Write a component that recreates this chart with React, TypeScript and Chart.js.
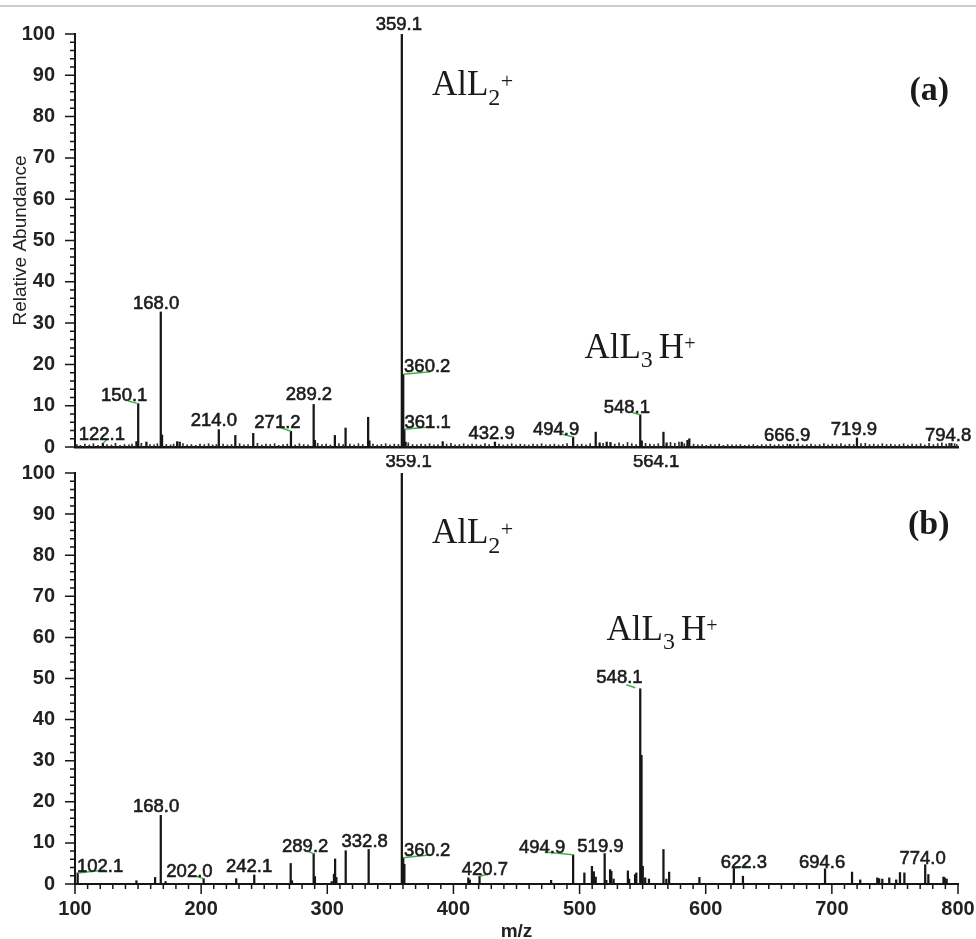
import React, { useEffect, useRef } from 'react';
import { Chart, registerables } from 'chart.js';

Chart.register(...registerables);

// ---------------- data ----------------
const xTickValues = [100, 200, 300, 400, 500, 600, 700, 800];
const yTickValues = [0, 10, 20, 30, 40, 50, 60, 70, 80, 90, 100];

// Panel (a): labelled / visible peaks
const topPeakMz = [122.1, 148.7, 150.1, 156.6, 168.0, 169.0, 181.0, 183.0, 214.0, 227.1, 241.3, 271.2, 289.2, 290.2, 306.0, 314.5, 332.4, 333.4, 359.1, 360.2, 361.1, 362.1, 391.5, 432.9, 494.9, 512.8, 515.9, 521.5, 524.5, 548.1, 549.3, 566.5, 569.0, 581.0, 585.5, 587.0, 666.9, 719.9, 794.8];
const topPeakAbund = [0.9, 1.3, 10.5, 1.2, 32.7, 2.9, 1.3, 1.2, 4.2, 2.8, 3.3, 3.8, 10.3, 1.6, 2.8, 4.6, 7.2, 1.5, 100, 17.6, 4.3, 1.2, 1.3, 1.2, 2.4, 3.6, 1.0, 1.2, 1.1, 7.8, 1.5, 3.6, 1.0, 1.2, 1.6, 2.0, 0.6, 2.2, 0.9];

// Panel (a): low-level background ions ("grass"), read approximately
const topNoise: [number, number][] = [
  [101.5, 0.6], [104.2, 0.4], [107.8, 0.7], [111.3, 0.5], [114.6, 0.8], [118.2, 0.4], [125.4, 0.6], [128.9, 0.5], [132.1, 0.9], [135.7, 0.4],
  [139.3, 0.6], [142.8, 0.5], [145.2, 0.7], [152.6, 0.9], [159.4, 0.6], [162.7, 0.5], [165.3, 0.8], [172.4, 0.6], [175.8, 0.5], [178.2, 0.7],
  [185.6, 0.8], [188.9, 0.5], [192.3, 0.6], [195.7, 0.4], [199.1, 0.7], [202.5, 0.6], [205.9, 0.8], [209.2, 0.5], [212.1, 0.6], [217.4, 0.7],
  [220.8, 0.5], [224.1, 0.6], [230.5, 0.8], [233.9, 0.5], [237.2, 0.6], [244.6, 0.9], [248.1, 0.5], [251.4, 0.7], [254.8, 0.6], [258.2, 0.8],
  [261.5, 0.4], [264.9, 0.6], [268.3, 0.7], [274.6, 0.5], [277.9, 0.8], [281.3, 0.6], [284.7, 0.5], [292.4, 0.9], [295.8, 0.6], [299.1, 0.7],
  [302.5, 0.5], [309.2, 0.8], [312.6, 0.6], [317.9, 0.7], [321.3, 0.5], [324.7, 0.8], [328.1, 0.6], [336.2, 0.7], [339.6, 0.5], [342.9, 0.6],
  [346.3, 0.8], [349.7, 0.5], [353.1, 0.7], [356.4, 0.6], [364.2, 1.0], [367.6, 0.6], [371.0, 0.5], [374.3, 0.7], [377.7, 0.6], [381.1, 0.8],
  [384.5, 0.5], [387.8, 0.6], [394.6, 0.7], [398.0, 0.9], [401.3, 0.5], [404.7, 0.6], [408.1, 0.8], [411.5, 0.5], [414.8, 0.7], [418.2, 0.6],
  [421.6, 0.5], [425.0, 0.8], [428.3, 0.6], [436.1, 0.7], [439.5, 0.5], [442.9, 0.6], [446.2, 0.8], [449.6, 0.5], [453.0, 0.7], [456.4, 0.6],
  [459.7, 0.5], [463.1, 0.7], [466.5, 0.6], [469.9, 0.8], [473.2, 0.5], [476.6, 0.6], [480.0, 0.7], [483.4, 0.5], [486.7, 0.6], [490.1, 0.8],
  [498.3, 0.6], [501.7, 0.7], [505.1, 0.5], [508.4, 0.8], [518.6, 0.9], [527.9, 0.7], [531.3, 1.0], [534.6, 0.6], [538.0, 1.1], [541.4, 0.8],
  [544.8, 0.6], [552.3, 0.9], [555.7, 0.7], [559.0, 0.6], [562.4, 0.8], [572.1, 1.1], [575.5, 0.9], [578.8, 1.2], [583.0, 0.8], [590.4, 0.7],
  [593.8, 0.5], [597.2, 0.6], [600.5, 0.4], [603.9, 0.6], [607.3, 0.5], [610.7, 0.7], [614.0, 0.4], [617.4, 0.6], [620.8, 0.5], [624.2, 0.5],
  [627.5, 0.6], [630.9, 0.4], [634.3, 0.5], [637.7, 0.6], [641.0, 0.4], [644.4, 0.6], [647.8, 0.5], [651.2, 0.7], [654.5, 0.5], [657.9, 0.6],
  [661.3, 0.5], [664.7, 0.7], [670.0, 0.6], [673.4, 0.8], [676.8, 0.5], [680.2, 0.6], [683.5, 0.7], [686.9, 0.5], [690.3, 0.6], [693.7, 0.8],
  [697.0, 0.5], [700.4, 0.7], [703.8, 0.6], [707.2, 0.8], [710.5, 0.5], [713.9, 0.7], [717.3, 0.6], [723.1, 0.8], [726.5, 0.9], [729.9, 0.6],
  [733.2, 0.7], [736.6, 0.5], [740.0, 0.8], [743.4, 0.6], [746.7, 0.7], [750.1, 0.5], [753.5, 0.6], [756.9, 0.8], [760.2, 0.5], [763.6, 0.7],
  [767.0, 0.6], [770.4, 0.8], [773.7, 0.5], [777.1, 0.9], [780.5, 0.6], [783.9, 0.8], [787.2, 1.0], [790.6, 0.7], [793.0, 0.9], [797.3, 0.8],
  [799.0, 0.6],
];

// Panel (b)
const bottomPeakMz = [102.1, 148.7, 163.5, 168.0, 171.8, 202.0, 227.8, 242.1, 271.0, 272.0, 289.2, 290.2, 303.5, 305.3, 306.2, 307.2, 314.6, 332.8, 359.1, 360.2, 361.1, 411.8, 413.0, 420.7, 477.4, 494.9, 503.8, 509.8, 511.3, 512.8, 519.9, 521.2, 524.2, 525.2, 527.0, 538.3, 539.3, 544.0, 545.0, 548.1, 549.1, 550.1, 552.0, 555.0, 566.5, 568.8, 571.0, 595.0, 622.3, 629.5, 694.6, 716.0, 722.5, 736.0, 737.5, 740.0, 745.5, 751.0, 754.0, 757.5, 774.0, 776.5, 788.5, 789.5, 791.0];
const bottomPeakAbund = [2.7, 0.8, 1.6, 16.7, 0.6, 1.3, 1.3, 2.2, 5.0, 0.8, 7.4, 1.8, 0.6, 2.4, 6.1, 1.6, 8.1, 8.4, 100, 6.4, 4.8, 1.5, 1.0, 1.9, 0.9, 7.1, 2.7, 4.3, 3.0, 1.7, 7.4, 0.9, 3.5, 3.1, 1.2, 3.2, 1.2, 2.3, 2.7, 47.5, 31.3, 4.3, 1.5, 1.2, 8.4, 1.2, 2.9, 1.6, 3.9, 1.9, 3.7, 2.9, 1.0, 1.5, 1.3, 1.2, 1.5, 1.0, 2.8, 2.7, 4.7, 2.3, 1.7, 1.5, 1.2];

// Peak annotation texts
const topLabelText = ['122.1', '150.1', '168.0', '214.0', '271.2', '289.2', '359.1', '360.2', '361.1', '432.9', '494.9', '548.1', '666.9', '719.9', '794.8'];
const bottomLabelText = ['102.1', '168.0', '202.0', '242.1', '289.2', '332.8', '359.1', '360.2', '420.7', '494.9', '519.9', '548.1', '564.1', '622.3', '694.6', '774.0'];

// ---------------- layout (label offsets in px relative to peak top) ----------------
const topLabelPlace: [number, number][] = [
  [-1, -3.3], [-14, -2.6], [-4.7, -2.9], [-5, -3.7], [-13.5, -3.3], [-4.7, -4.5], [-3, -4], [24, -2.3], [23.3, -1.2],
  [-3.3, -3], [-17, -2.1], [-13.4, -1.8], [-3, -3.8], [-3, -2.9], [-3.4, -2.6],
];
const topLeaders: (number[] | null)[] = [
  [0, 0, 4, -3.5], [0, 0, -10, -2.6], null, null, [0, 0, -10, -3.6], null, null, [0, 0, 27, -2.5], [0, 0, 28, -2.6],
  null, [0, 0, -13.5, -3.5], [0, 0, -8.5, -2.5], null, null, null,
];
const bottomLabelPlace: [number, number][] = [
  [22.4, -1.2], [-4.7, -3.4], [-14.2, -1.7], [-5.2, -3], [-8.5, -2], [-4, -2.5], [6.7, -6], [24, -1.7], [5.3, -1.2],
  [-31, -1.8], [-4.2, -1.6], [-20.8, -6.1], [-4.4, -6], [10, -0.3], [-3, -1], [-2.6, -0.7],
];
const bottomLeaders: (number[] | null)[] = [
  [0, 0, 27.4, -3], null, [0, 0, -8.7, -2.7], null, [0, 0, -4.7, -1.9], null, null, [0, 0, 28, -3], [0, 0, 10, -2.5],
  [0, 0, -28.5, -2.8], null, [-5, -1, -14, -4], null, [0, 0, 13, -2], null, null,
];

type Piece = { t: string; size: number; shift?: number; gap?: number; bold?: boolean };
type Note = { mz: number; v: number; pieces: Piece[] };

const topNotes: Note[] = [
  { mz: 383.0, v: 85.2, pieces: [{ t: 'AlL', size: 35 }, { t: '2', size: 24, shift: 10 }, { t: '+', size: 22, shift: -7, gap: 0.5 }] },
  { mz: 761.5, v: 84.0, pieces: [{ t: '(a)', size: 34, bold: true }] },
  { mz: 503.9, v: 21.5, pieces: [{ t: 'AlL', size: 35 }, { t: '3', size: 24, shift: 9 }, { t: 'H', size: 35, gap: 6 }, { t: '+', size: 20, shift: -8 }] },
];
const bottomNotes: Note[] = [
  { mz: 383.0, v: 82.97, pieces: [{ t: 'AlL', size: 35 }, { t: '2', size: 24, shift: 10 }, { t: '+', size: 22, shift: -7, gap: 0.5 }] },
  { mz: 760.4, v: 85.2, pieces: [{ t: '(b)', size: 34, bold: true }] },
  { mz: 521.4, v: 59.4, pieces: [{ t: 'AlL', size: 35 }, { t: '3', size: 24, shift: 9 }, { t: 'H', size: 35, gap: 6 }, { t: '+', size: 20, shift: -8 }] },
];

const SANS = '"Liberation Sans", Arial, Helvetica, sans-serif';
const SERIF = '"Liberation Serif", "Times New Roman", serif';
const GREEN = '#45b04c';
const INK = '#161616';

const X_MINOR = 10;
const X_MAJOR = 100;
const Y_MINOR = 2;
const Y_MAJOR = 10;

function axisTicksPlugin(drawX: boolean) {
  return {
    id: 'axisTicks',
    afterDraw(chart: any) {
      const { ctx, chartArea } = chart;
      const xs = chart.scales.x;
      const ys = chart.scales.y;
      ctx.save();
      ctx.strokeStyle = INK;
      ctx.lineWidth = 1.5;
      ctx.beginPath();
      for (let v = ys.min; v <= ys.max + 1e-6; v += Y_MINOR) {
        const p = ys.getPixelForValue(v);
        const len = Math.abs(v % Y_MAJOR) < 1e-6 ? 10 : 5;
        ctx.moveTo(chartArea.left - len, p);
        ctx.lineTo(chartArea.left, p);
      }
      if (drawX) {
        for (let m = xs.min; m <= xs.max + 1e-6; m += X_MINOR) {
          const p = xs.getPixelForValue(m);
          const len = Math.abs(m % X_MAJOR) < 1e-6 ? 10 : 5;
          ctx.moveTo(p, chartArea.bottom);
          ctx.lineTo(p, chartArea.bottom + len);
        }
      }
      ctx.stroke();
      ctx.restore();
    },
  };
}

function peakLabelPlugin(texts: string[], mzs: number[], abunds: number[], place: [number, number][], leaders: (number[] | null)[]) {
  return {
    id: 'peakLabels',
    afterDraw(chart: any) {
      const { ctx } = chart;
      const xs = chart.scales.x;
      const ys = chart.scales.y;
      ctx.save();
      texts.forEach((t, i) => {
        const mz = parseFloat(t);
        const idx = mzs.findIndex((m) => Math.abs(m - mz) < 0.05);
        const v = idx >= 0 ? abunds[idx] : ys.max;
        const px = xs.getPixelForValue(mz);
        const py = ys.getPixelForValue(v);
        const L = leaders[i];
        if (L) {
          ctx.strokeStyle = GREEN;
          ctx.lineWidth = 1.5;
          ctx.beginPath();
          ctx.moveTo(px + L[0], py + L[1]);
          ctx.lineTo(px + L[2], py + L[3]);
          ctx.stroke();
        }
        ctx.font = `18.5px ${SANS}`;
        ctx.fillStyle = '#1c1c1c';
        ctx.strokeStyle = '#1c1c1c';
        ctx.lineWidth = 0.6;
        ctx.textAlign = 'center';
        ctx.textBaseline = 'alphabetic';
        const lx = px + place[i][0];
        const ly = py + place[i][1];
        ctx.fillText(t, lx, ly);
        ctx.strokeText(t, lx, ly);
      });
      ctx.restore();
    },
  };
}

function notesPlugin(notes: Note[]) {
  return {
    id: 'notes',
    afterDraw(chart: any) {
      const { ctx } = chart;
      const xs = chart.scales.x;
      const ys = chart.scales.y;
      ctx.save();
      ctx.fillStyle = '#1a1a1a';
      ctx.textAlign = 'left';
      ctx.textBaseline = 'alphabetic';
      notes.forEach((n) => {
        let x = xs.getPixelForValue(n.mz);
        const y = ys.getPixelForValue(n.v);
        n.pieces.forEach((p) => {
          x += p.gap || 0;
          ctx.font = `${p.bold ? 'bold ' : ''}${p.size}px ${SERIF}`;
          ctx.fillText(p.t, x, y + (p.shift || 0));
          x += ctx.measureText(p.t).width;
        });
      });
      ctx.restore();
    },
  };
}

function makeConfig(panel: 'top' | 'bottom'): any {
  const isTop = panel === 'top';
  const mzs = isTop ? topPeakMz : bottomPeakMz;
  const abunds = isTop ? topPeakAbund : bottomPeakAbund;
  const datasets: any[] = [
    {
      data: mzs.map((x, i) => ({ x, y: abunds[i] })),
      backgroundColor: INK,
      borderWidth: 0,
      barThickness: 1.6,
      grouped: false,
    },
  ];
  if (isTop) {
    datasets.push({
      data: topNoise.map(([x, y]) => ({ x, y })),
      backgroundColor: '#2a2a2a',
      borderWidth: 0,
      barThickness: 1,
      grouped: false,
    });
  }
  return {
    type: 'bar',
    data: { datasets },
    options: {
      responsive: false,
      animation: false,
      events: [],
      layout: { padding: { top: isTop ? 34 : 18, right: 18, left: 0, bottom: 0 } },
      plugins: { legend: { display: false }, tooltip: { enabled: false } },
      scales: {
        x: {
          type: 'linear',
          min: 100,
          max: 800,
          offset: false,
          grid: { display: false, drawTicks: false, offset: false },
          border: { display: true, color: INK, width: isTop ? 2.5 : 2 },
          afterBuildTicks: (s: any) => {
            s.ticks = xTickValues.map((value) => ({ value }));
          },
          ticks: {
            display: !isTop,
            autoSkip: false,
            maxRotation: 0,
            padding: 13,
            color: '#222',
            font: { family: SANS, size: 20, weight: 'bold' },
          },
          title: {
            display: !isTop,
            text: 'm/z',
            color: '#222',
            font: { family: SANS, size: 19, weight: 'bold' },
            padding: { top: 0, bottom: 0 },
          },
          afterFit: (s: any) => {
            s.height = isTop ? 8 : 59;
            s.paddingLeft = 0;
            s.paddingRight = 0;
          },
        },
        y: {
          type: 'linear',
          min: 0,
          max: 100,
          grid: { display: false, drawTicks: false },
          border: { display: true, color: INK, width: 2 },
          afterBuildTicks: (s: any) => {
            s.ticks = yTickValues.map((value) => ({ value }));
          },
          ticks: {
            padding: 20,
            color: '#222',
            font: { family: SANS, size: 20, weight: 'bold' },
          },
          title: {
            display: isTop,
            text: 'Relative Abundance',
            color: '#222',
            font: { family: SANS, size: 19 },
            padding: { top: 9, bottom: 0 },
          },
          afterFit: (s: any) => {
            s.width = 75;
            s.paddingTop = 0;
            s.paddingBottom = 0;
          },
        },
      },
    },
    plugins: [
      axisTicksPlugin(!isTop),
      isTop
        ? peakLabelPlugin(topLabelText, topPeakMz, topPeakAbund, topLabelPlace, topLeaders)
        : peakLabelPlugin(bottomLabelText, bottomPeakMz, bottomPeakAbund, bottomLabelPlace, bottomLeaders),
      notesPlugin(isTop ? topNotes : bottomNotes),
    ],
  };
}

export default function App() {
  const topRef = useRef<HTMLCanvasElement>(null);
  const botRef = useRef<HTMLCanvasElement>(null);

  useEffect(() => {
    const c1 = new Chart(topRef.current as HTMLCanvasElement, makeConfig('top'));
    const c2 = new Chart(botRef.current as HTMLCanvasElement, makeConfig('bottom'));
    return () => {
      c1.destroy();
      c2.destroy();
    };
  }, []);

  return (
    <div style={{ position: 'fixed', left: 0, top: 0, width: 976, height: 939, background: '#fff', overflow: 'hidden' }}>
      <canvas ref={topRef} width={976} height={455} style={{ position: 'absolute', left: 0, top: 0, width: 976, height: 455 }} />
      <canvas ref={botRef} width={976} height={488} style={{ position: 'absolute', left: 0, top: 455, width: 976, height: 488 }} />
      <div style={{ position: 'absolute', left: 0, top: 5, width: 976, height: 2, background: '#cdcdcd' }} />
    </div>
  );
}
